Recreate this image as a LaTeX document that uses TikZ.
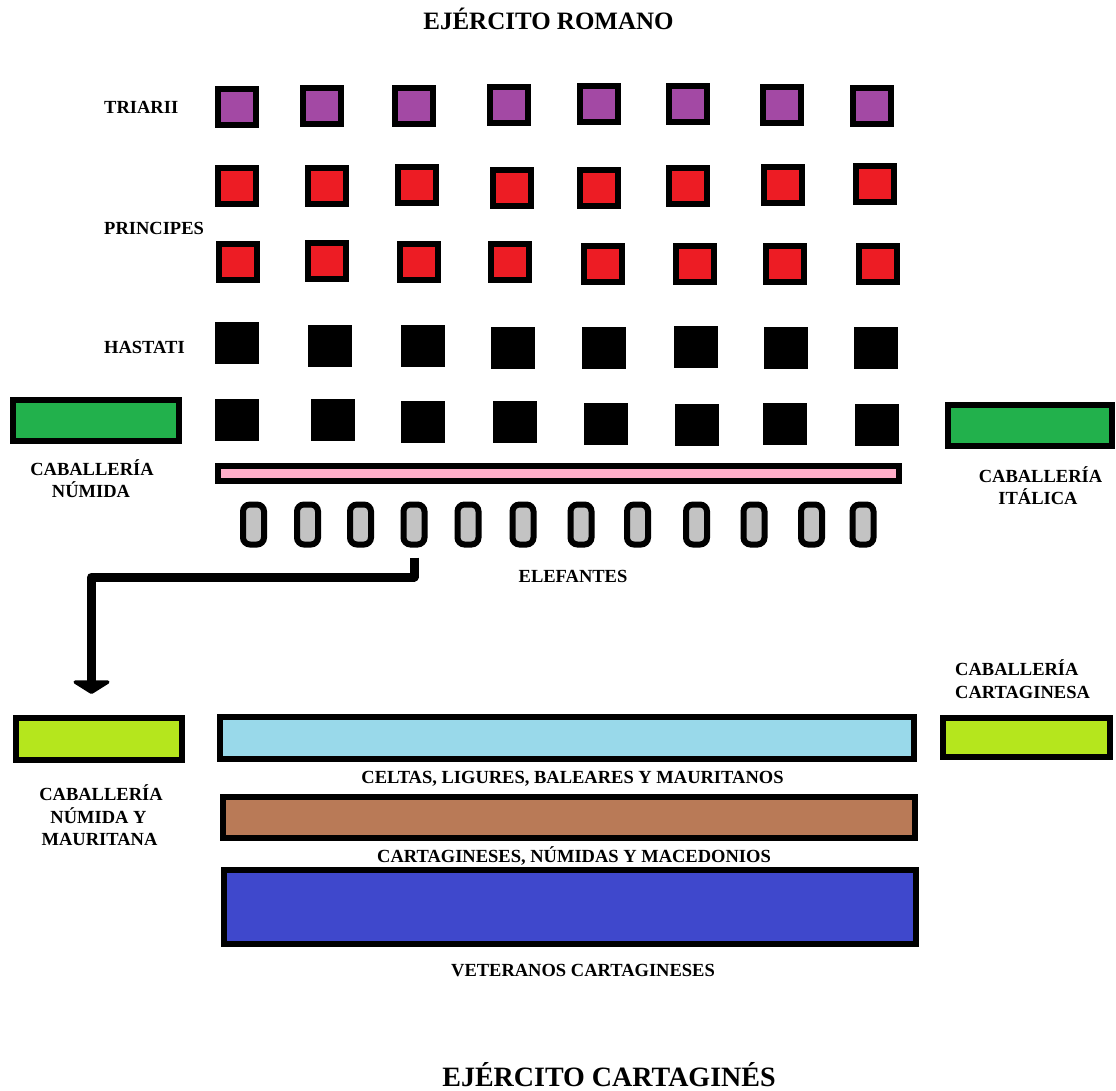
\documentclass[tikz,border=0pt]{standalone}
\usepackage{fontspec}
\setmainfont{Liberation Serif}
\usetikzlibrary{arrows.meta}

\definecolor{triariicol}{HTML}{A349A4}
\definecolor{principescol}{HTML}{ED1C24}
\definecolor{cavgreen}{HTML}{22B14C}
\definecolor{elephantbar}{HTML}{FFAEC9}
\definecolor{elephantgrey}{HTML}{C3C3C3}
\definecolor{limecol}{HTML}{B5E61D}
\definecolor{celtcol}{HTML}{99D9EA}
\definecolor{cartcol}{HTML}{B97A57}
\definecolor{vetcol}{HTML}{3F48CC}

\tikzset{
  unitsq/.style={draw=black, line width=6pt, minimum width=38pt, minimum height=36pt, inner sep=0pt},
  triariisq/.style={unitsq, fill=triariicol},
  principessq/.style={unitsq, fill=principescol},
  hastatisq/.style={unitsq, fill=black},
  elephant/.style={draw=black, fill=elephantgrey, line width=6pt, rounded corners=7pt,
                   minimum width=21pt, minimum height=40pt, inner sep=0pt},
  block/.style={draw=black, line width=6pt, inner sep=0pt},
  lab/.style={font=\fontsize{18.5}{22}\selectfont\bfseries, inner sep=0pt, anchor=base},
  labw/.style={lab, anchor=base west},
  flank/.style={line width=9pt, line join=round,
                -{Triangle[width=44pt,length=14pt,round]}}
}

\begin{document}
\begin{tikzpicture}[x=1pt, y=-1pt]
\useasboundingbox (0,0) rectangle (1116,1090);
\fill[white] (0,0) rectangle (1116,1090);

% titles
\node[lab, font=\fontsize{25}{30}\selectfont\bfseries] (romano) at (548.5,29) {EJÉRCITO ROMANO};
\node[lab, font=\fontsize{28}{33}\selectfont\bfseries] (cartago) at (609,1086) {EJÉRCITO CARTAGINÉS};

% Roman lines
\node[labw] (ltri) at (104,113) {TRIARII};
\node[labw] (lpri) at (104,234) {PRINCIPES};
\node[labw] (lhas) at (104,353) {HASTATI};

\foreach \x/\y [count=\i] in {237/107,322/106,414/106,509/105,599/103.5,688/103.5,782/104.5,872/106}
  \node[triariisq] (tr\i) at (\x,\y) {};
\foreach \x/\y [count=\i] in {237/186,327/186,417/185,511.5/187.5,599/187.5,688/186,782.5/185,875/184}
  \node[principessq] (pa\i) at (\x,\y) {};
\foreach \x/\y [count=\i] in {238/262,327/260.5,419/262,510/262,602.5/264,695/264,785/264,877.5/264}
  \node[principessq] (pb\i) at (\x,\y) {};
\foreach \x/\y [count=\i] in {237/343,330/346,423/346,513/348,604/348,696/347,786/348,876/348}
  \node[hastatisq] (ha\i) at (\x,\y) {};
\foreach \x/\y [count=\i] in {237/420,333/420,423/422,515/422,606/423.5,697/425,785/423.5,877/425}
  \node[hastatisq] (hb\i) at (\x,\y) {};

% Roman cavalry
\node[block, fill=cavgreen, minimum width=166pt, minimum height=41pt] (numR) at (96,420.5) {};
\node[block, fill=cavgreen, minimum width=164pt, minimum height=41pt] (italR) at (1030,425.5) {};
\node[lab] (numRa) at (92,475) {CABALLERÍA};
\node[lab] (numRb) at (91,497) {NÚMIDA};
\node[lab] (italRa) at (1040.5,482) {CABALLERÍA};
\node[lab] (italRb) at (1038,504) {ITÁLICA};

% elephants
\node[block, fill=elephantbar, minimum width=681pt, minimum height=15pt] (ebar) at (558.5,473.5) {};
\foreach \x [count=\i] in {253.5,307.5,360.5,414,468,523,581,637.5,696.5,754,811.5,863}
  \node[elephant] (e\i) at (\x,524.5) {};
\node[lab] (lele) at (573,582) {ELEFANTES};

% Carthaginian lines
\node[block, fill=limecol, minimum width=166pt, minimum height=42pt] (numC) at (99,739) {};
\node[block, fill=celtcol, minimum width=694pt, minimum height=42pt] (celt) at (567,738) {};
\node[block, fill=limecol, minimum width=167pt, minimum height=39pt] (cartC) at (1026.5,737.5) {};
\node[block, fill=cartcol, minimum width=692pt, minimum height=41pt] (cart) at (569,817.5) {};
\node[block, fill=vetcol, minimum width=692pt, minimum height=74pt] (vet) at (570,907) {};

\node[labw] (cartCa) at (955,675) {CABALLERÍA};
\node[labw] (cartCb) at (955,698) {CARTAGINESA};
\node[lab] (numCa) at (101,800) {CABALLERÍA};
\node[lab] (numCb) at (98.5,823) {NÚMIDA Y};
\node[lab] (numCc) at (99.5,845) {MAURITANA};
\node[lab] (lcelt) at (572.5,783) {CELTAS, LIGURES, BALEARES Y MAURITANOS};
\node[lab] (lcart) at (574,862) {CARTAGINESES, NÚMIDAS Y MACEDONIOS};
\node[lab] (lvet) at (583,976) {VETERANOS CARTAGINESES};

% flanking manoeuvre
\coordinate (bend) at ([xshift=-7.5pt]numC.north);
\draw[flank, shorten <=10pt, shorten >=21pt] (e4.south) -- ++(0,29.5) -| (bend);
\end{tikzpicture}
\end{document}
